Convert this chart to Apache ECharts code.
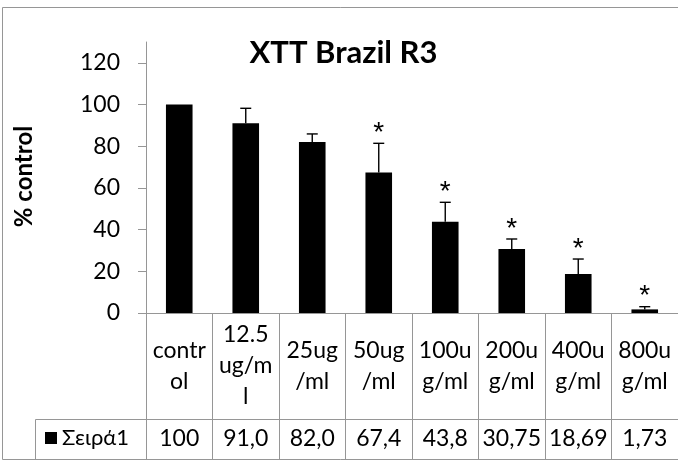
<!DOCTYPE html>
<html><head><meta charset="utf-8">
<script src="https://cdn.jsdelivr.net/npm/echarts@6/dist/echarts.min.js"></script>
<style>html,body{margin:0;padding:0;background:#fff}#c{width:678px;height:461px}</style>
</head><body><div id="c"></div>
<script>
const categories = ['contr\nol', '12.5\nug/m\nl', '25ug\n/ml', '50ug\n/ml', '100u\ng/ml', '200u\ng/ml', '400u\ng/ml', '800u\ng/ml'];
const values = [100, 91.0, 82.0, 67.4, 43.8, 30.75, 18.69, 1.73];
const tableLabels = ['100', '91,0', '82,0', '67,4', '43,8', '30,75', '18,69', '1,73'];
const errors = [0, 7.2, 3.9, 14.0, 9.3, 4.75, 7.2, 1.3];
const marks = ['', '', '', '*', '*', '*', '*', '*'];
const yTicks = [0, 20, 40, 60, 80, 100, 120];
const seriesName = 'Σειρά1';
const chartTitle = 'XTT Brazil R3';
const yName = '% control';

const FONT = 'Lato, "Noto Sans", sans-serif';
const GRAY = '#969696';

const chart = echarts.init(document.getElementById('c'), null, {renderer: 'canvas'});
chart.setOption({
  animation: false,
  backgroundColor: '#fff',
  textStyle: {fontFamily: FONT, color: '#000'},
  grid: {left: 146, top: 42, right: -5.5, bottom: 148, containLabel: false},
  legend: {
    data: [seriesName], left: 45, top: 427, icon: 'rect', itemWidth: 12, itemHeight: 12,
    padding: 0, textStyle: {fontFamily: FONT, fontSize: 22, color: '#000'}
  },
  xAxis: [{
    type: 'category', data: categories, position: 'bottom',
    axisLine: {show: true, lineStyle: {color: GRAY, width: 1}},
    axisTick: {show: true, length: 146, interval: 0, lineStyle: {color: GRAY, width: 1}},
    axisLabel: {interval: 0, margin: 53, verticalAlign: 'middle', fontFamily: FONT, fontSize: 23, lineHeight: 31, color: '#000'},
    splitLine: {show: false}
  }, {
    type: 'category', data: tableLabels, position: 'bottom', offset: 106,
    axisLine: {show: true, lineStyle: {color: GRAY, width: 1}},
    axisTick: {show: false},
    axisLabel: {interval: 0, margin: 20, verticalAlign: 'middle', fontFamily: FONT, fontSize: 23, color: '#000'},
    splitLine: {show: false}
  }],
  yAxis: {
    type: 'value', min: 0, max: 130, interval: 20,
    axisLine: {show: true, lineStyle: {color: GRAY, width: 1}},
    axisTick: {show: true, length: 8, customValues: yTicks, lineStyle: {color: GRAY, width: 1}},
    axisLabel: {margin: 26, customValues: yTicks, fontFamily: FONT, fontSize: 23, color: '#000'},
    splitLine: {show: false}
  },
  series: [{
    name: seriesName, type: 'bar', data: values, barWidth: '40%', xAxisIndex: 0,
    itemStyle: {color: '#000'}
  }, {
    name: 'err', type: 'custom', xAxisIndex: 0,
    data: categories.map((c, i) => [i, values[i], errors[i]]),
    encode: {x: 0, y: 1},
    z: 5,
    renderItem: function (params, api) {
      const i = api.value(0), v = api.value(1), e = api.value(2);
      const base = api.coord([i, v]);
      const top = api.coord([i, v + e]);
      const children = [];
      if (e > 0) {
        children.push({type: 'line', shape: {x1: base[0], y1: base[1], x2: top[0], y2: top[1]}, style: {stroke: '#000', lineWidth: 1.4}});
        children.push({type: 'line', shape: {x1: top[0] - 5.5, y1: top[1], x2: top[0] + 5.5, y2: top[1]}, style: {stroke: '#000', lineWidth: 1.4}});
      }
      const m = marks[params.dataIndex];
      if (m) {
        children.push({type: 'text', x: top[0], y: top[1] - 10, style: {text: m, font: '28px "Liberation Sans", sans-serif', fill: '#000', align: 'center', verticalAlign: 'middle'}});
      }
      return {type: 'group', children: children};
    }
  }],
  graphic: [
    {type: 'rect', shape: {x: 2.5, y: 7.5, width: 700, height: 452}, style: {fill: 'none', stroke: GRAY, lineWidth: 1}, silent: true},
    {type: 'polyline', shape: {points: [[35.5, 459.5], [35.5, 419.5], [146, 419.5]]}, style: {fill: 'none', stroke: GRAY, lineWidth: 1}, silent: true},
    {type: 'text', x: 343.5, y: 53, style: {text: chartTitle, font: 'bold 31px ' + FONT, fill: '#000', align: 'center', verticalAlign: 'middle'}},
    {type: 'text', x: 24.5, y: 176.5, rotation: Math.PI / 2, style: {text: yName, font: 'bold 24px ' + FONT, fill: '#000', align: 'center', verticalAlign: 'middle'}}
  ]
});
</script></body></html>
